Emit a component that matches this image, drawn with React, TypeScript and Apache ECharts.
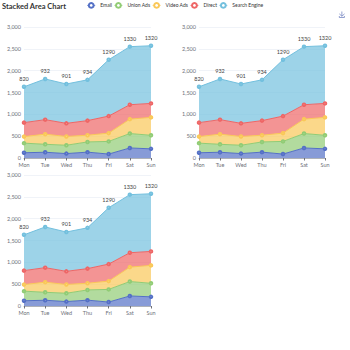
import React, { useEffect, useRef } from "react";
import * as echarts from "echarts";

const days = ["Mon", "Tue", "Wed", "Thu", "Fri", "Sat", "Sun"];
const seriesNames = ["Email", "Union Ads", "Video Ads", "Direct", "Search Engine"];
const email = [120, 132, 101, 134, 90, 230, 210];
const unionAds = [220, 182, 191, 234, 290, 330, 310];
const videoAds = [150, 232, 201, 154, 190, 330, 410];
const direct = [320, 332, 301, 334, 390, 330, 320];
const searchEngine = [820, 932, 901, 934, 1290, 1330, 1320];
const colors = ["#5470c6", "#91cc75", "#fac858", "#ee6666", "#73c0de"];

const FONT = "Lato, 'Noto Sans', sans-serif";

export default function App() {
  const ref = useRef<HTMLDivElement>(null);
  useEffect(() => {
    if (!ref.current) return;
    const chart = echarts.init(ref.current, undefined, { renderer: "svg" });
    const values = [email, unionAds, videoAds, direct, searchEngine];
    const grids = [
      { left: 24, top: 27, width: 127, height: 131 },
      { left: 199, top: 27, width: 126, height: 131 },
      { left: 24, top: 175, width: 127, height: 131 },
    ];
    const xAxes = grids.map((_, i) => ({
      type: "category",
      gridIndex: i,
      boundaryGap: false,
      data: days,
      axisLabel: { fontSize: 5.5, margin: 3.5, fontFamily: FONT, color: "#6E7079" },
      axisTick: { length: 2.5 },
      axisLine: { lineStyle: { width: 0.5, color: "#6E7079" } },
    }));
    const yAxes = grids.map((_, i) => ({
      type: "value",
      gridIndex: i,
      axisLabel: { fontSize: 5.5, margin: 3, fontFamily: FONT, color: "#6E7079" },
      splitLine: { lineStyle: { width: 0.5, color: "#E0E6F1" } },
    }));
    const series: any[] = [];
    grids.forEach((_, g) => {
      seriesNames.forEach((name, k) => {
        series.push({
          name,
          type: "line",
          stack: "Total" + g,
          xAxisIndex: g,
          yAxisIndex: g,
          data: values[k],
          symbol: "emptyCircle",
          symbolSize: 2.5,
          lineStyle: { width: 1 },
          itemStyle: { borderWidth: 1 },
          areaStyle: { opacity: 0.7 },
          label:
            k === 4
              ? { show: true, position: "top", fontSize: 5.5, distance: 2.5, fontFamily: FONT, color: "#444" }
              : { show: false },
        });
      });
    });
    chart.setOption({
      animation: false,
      color: colors,
      title: {
        text: "Stacked Area Chart",
        left: 0,
        top: 0,
        padding: [2.5, 2],
        textStyle: { fontSize: 7.5, fontWeight: "bold", fontFamily: FONT, color: "#333" },
      },
      legend: {
        data: seriesNames,
        top: 0,
        padding: [2, 5],
        left: "center",
        itemWidth: 8,
        itemHeight: 6,
        itemGap: 2,
        itemStyle: { borderWidth: 0.8 },
        lineStyle: { width: 0.8 },
        textStyle: { fontSize: 5, fontFamily: FONT, color: "#333" },
      },
      toolbox: {
        right: 3,
        top: 9,
        padding: 0,
        itemSize: 6,
        iconStyle: { borderWidth: 0.7 },
        feature: { saveAsImage: {} },
      },
      grid: grids,
      xAxis: xAxes,
      yAxis: yAxes,
      series,
    });
    return () => chart.dispose();
  }, []);
  return <div ref={ref} style={{ width: 350, height: 350, position: "absolute", left: 0, top: 0 }} />;
}
